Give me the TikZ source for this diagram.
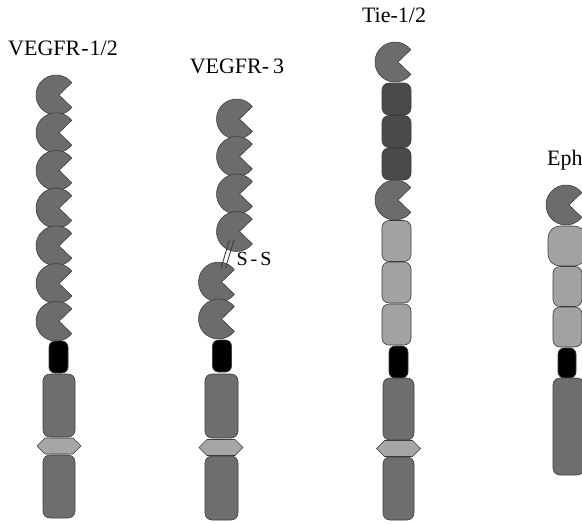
\documentclass[tikz,border=0pt]{standalone}
\usepackage{fontspec}
\setmainfont{Liberation Serif}
\usetikzlibrary{positioning}

\definecolor{edge}{HTML}{3C3C3C}
\definecolor{igdom}{HTML}{6C6C6C}
\definecolor{kindom}{HTML}{6E6E6E}
\definecolor{egfdom}{HTML}{4A4A4A}
\definecolor{fndom}{HTML}{A2A2A2}
\definecolor{kidom}{HTML}{A6A6A6}

\tikzset{
  dom/.style={draw=edge, line width=0.6pt, rounded corners=7pt, inner sep=0pt},
  kin/.style={dom, fill=kindom, minimum width=32pt, minimum height=63pt},
  tm/.style={dom, fill=black, minimum width=19pt, minimum height=32pt, rounded corners=6pt},
  fn/.style={dom, fill=fndom, minimum width=29pt, minimum height=41pt},
  egf/.style={dom, fill=egfdom, minimum width=29pt, minimum height=32pt},
  lbl/.style={font=\fontsize{22}{26}\selectfont, inner sep=0pt},
  pacman/.pic={
    \coordinate (-c) at (0,0);
    \draw[fill=igdom, draw=edge, line width=0.6pt] (3,0) -- (38:20) arc (38:322:20) -- cycle;
  },
  kinsert/.pic={
    \coordinate (-c) at (0,0);
    \draw[fill=kidom, draw=edge, line width=0.6pt]
      (-22,0) -- (-14,-8) -- (14,-8) -- (22,0) -- (14,8) -- (-14,8) -- cycle;
  }
}

\begin{document}
\begin{tikzpicture}[x=1pt, y=-1pt]
\path[use as bounding box, clip] (0,0) rectangle (582,523);

% VEGFR-1/2
\node[lbl] (v12) at (63,48) {VEGFR\kern1pt-\kern1pt1/2};
\foreach \i in {0,...,6}
  \pic (v12p\i) at (56,{95+37.7*\i}) {pacman};
\node[tm] (v12tm) at (58.5,357) {};
\node[kin] (v12k1) at (59,405.5) {};
\pic (v12ki) at (59,446) {kinsert};
\node[kin] (v12k2) at (59,486.5) {};

% VEGFR-3, cleaved and joined by a disulfide bond
\node[lbl] (v3) at (237,66) {VEGFR-\kern4pt3};
\foreach \i in {0,...,3}
  \pic (v3p\i) at (236.5,{119+37.5*\i}) {pacman};
\foreach \y/\n in {282/4, 319/5}
  \pic (v3p\n) at (218.5,\y) {pacman};
\coordinate (ssa1) at (221,268);
\coordinate (ssb1) at (229.5,240);
\coordinate (ssa2) at (225.5,268);
\coordinate (ssb2) at (234,240);
\draw[edge, line width=0.9pt] (ssa1) -- (ssb1) (ssa2) -- (ssb2);
\node[lbl, font=\fontsize{20}{24}\selectfont] (ss) at (254,259) {S\kern3pt-\kern3pt S};
\node[tm] (v3tm) at (222,356) {};
\node[kin, minimum width=33pt, minimum height=64pt] (v3k1) at (221.5,406) {};
\pic (v3ki) at (221,447.5) {kinsert};
\node[kin, minimum width=33pt, minimum height=64pt] (v3k2) at (221.5,488) {};

% Tie-1/2
\node[lbl] (tie) at (394,15) {Tie-1/2};
\pic (tiep0) at (395,62) {pacman};
\foreach \y/\n in {99/1, 131.5/2, 164/3}
  \node[egf] (tiee\n) at (396.5,\y) {};
\pic (tiep1) at (395,200) {pacman};
\foreach \y/\n in {241/1, 282.5/2, 324.5/3}
  \node[fn] (tief\n) at (396.5,\y) {};
\node[tm] (tietm) at (398.5,362) {};
\node[kin, minimum width=31pt, minimum height=62pt] (tiek1) at (398.5,409) {};
\pic (tieki) at (398.5,448.5) {kinsert};
\node[kin, minimum width=31pt, minimum height=63pt] (tiek2) at (398.5,488.5) {};

% Eph
\node[lbl, anchor=west] (eph) at (547,160) {Eph};
\pic (ephp0) at (566,205) {pacman};
\node[fn, minimum width=38pt, minimum height=40pt, rounded corners=12pt] (ephf1) at (567,246) {};
\foreach \y/\n in {286.5/2, 327/3}
  \node[fn, minimum height=40pt] (ephf\n) at (567.5,\y) {};
\node[tm, minimum width=18pt, minimum height=30pt] (ephtm) at (567,363) {};
\node[kin, minimum width=31pt, minimum height=97pt] (ephk) at (568.5,426.5) {};
\end{tikzpicture}
\end{document}
